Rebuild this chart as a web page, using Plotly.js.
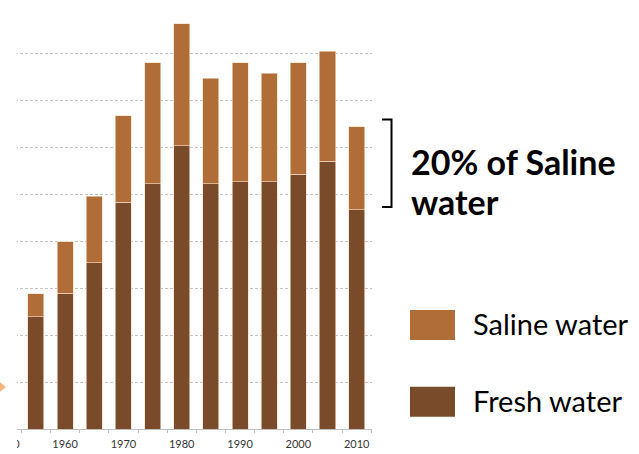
<!DOCTYPE html>
<html>
<head>
<meta charset="utf-8">
<script src="https://cdn.plot.ly/plotly-3.0.1.min.js"></script>
<style>
  html, body { margin: 0; padding: 0; background: #ffffff; }
  #chart { width: 639px; height: 454px; }
</style>
</head>
<body>
<div id="chart"></div>
<script>
// ---- data ----
const years = [1955, 1960, 1965, 1970, 1975, 1980, 1985, 1990, 1995, 2000, 2005, 2010];
const freshWater = [23.9, 29.0, 35.4, 48.3, 52.3, 60.4, 52.3, 52.7, 52.7, 54.3, 57.1, 46.8];
const salineWater = [4.9, 10.9, 14.2, 18.5, 25.8, 26.0, 22.5, 25.4, 23.2, 23.8, 23.4, 17.7];
const tickYears = [1950, 1960, 1970, 1980, 1990, 2000, 2010];
const tickLabels = ['1950', '1960', '1970', '1980', '1990', '2000', '2010'];
const seriesNames = ['Fresh water', 'Saline water'];
const noteText = ['20% of Saline', 'water'];

// ---- styles ----
const FRESH = '#7a4b2b';
const SALINE = '#b06d37';
const EDGE = 'rgba(246,222,200,0.9)';

// paper-coordinate helpers (plot area: x 0..372 px, y 6..429 px)
const PW = 372, PT = 6, PB = 429;
const X = px => px / PW;
const Y = py => (PB - py) / (PB - PT);

const traces = [
  {
    type: 'bar', name: seriesNames[0], x: years, y: freshWater,
    marker: { color: FRESH, line: { color: EDGE, width: 0.7 } },
    showlegend: false, hoverinfo: 'x+y+name'
  },
  {
    type: 'bar', name: seriesNames[1], x: years, y: salineWater,
    marker: { color: SALINE, line: { color: EDGE, width: 0.7 } },
    showlegend: false, hoverinfo: 'x+y+name'
  }
];

const layout = {
  width: 639, height: 454,
  margin: { l: 0, r: 639 - PW, t: PT, b: 454 - PB },
  paper_bgcolor: '#ffffff', plot_bgcolor: '#ffffff',
  barmode: 'stack', bargap: 0.45,
  font: { family: 'Lato, "Open Sans", sans-serif', color: '#000000' },
  xaxis: {
    range: [1948.83, 2012.63],
    tickmode: 'array', tickvals: tickYears, ticktext: tickLabels,
    ticks: '', showgrid: false, zeroline: false,
    showline: true, linecolor: '#bfbfbf', linewidth: 1,
    tickfont: { family: 'Lato, sans-serif', size: 11, color: '#333333' },
    ticklabelstandoff: 5, ticklabeloverflow: 'allow',
    minor: { tick0: 1952.5, dtick: 5, ticks: 'outside', ticklen: 3, tickcolor: '#bfbfbf', showgrid: false }
  },
  yaxis: {
    range: [0, 90.2], dtick: 10, tick0: 0,
    showticklabels: false, ticks: '', zeroline: false, showline: false,
    showgrid: true, gridcolor: '#c4c4c4', gridwidth: 1, griddash: '3px,2px'
  },
  shapes: [
    // crop edge of the embedded chart picture
    { type: 'rect', xref: 'paper', yref: 'paper', layer: 'above',
      x0: -0.02, x1: X(17), y0: -0.2, y1: 1.1, fillcolor: '#ffffff', line: { width: 0 } },
    // orange arrow tip at the left edge
    { type: 'path', xref: 'paper', yref: 'paper', layer: 'above',
      path: `M ${X(-3)},${Y(380)} L ${X(6)},${Y(387)} L ${X(-3)},${Y(394)} Z`,
      fillcolor: '#f5b57c', line: { width: 0 } },
    // bracket
    { type: 'path', xref: 'paper', yref: 'paper', layer: 'above',
      path: `M ${X(382)},${Y(119.5)} L ${X(391.5)},${Y(119.5)} L ${X(391.5)},${Y(207)} L ${X(382)},${Y(207)}`,
      line: { color: '#000000', width: 2 } },
    // legend swatches
    { type: 'rect', xref: 'paper', yref: 'paper', layer: 'above',
      x0: X(410), x1: X(455), y0: Y(340), y1: Y(310), fillcolor: SALINE, line: { width: 0 } },
    { type: 'rect', xref: 'paper', yref: 'paper', layer: 'above',
      x0: X(410), x1: X(455), y0: Y(416.7), y1: Y(386.7), fillcolor: FRESH, line: { width: 0 } }
  ],
  annotations: [
    { xref: 'paper', yref: 'paper', x: X(409), y: Y(161), xanchor: 'left', yanchor: 'middle',
      text: '<b>' + noteText[0] + '</b>', showarrow: false,
      font: { family: 'Lato, sans-serif', size: 34, color: '#000000' } },
    { xref: 'paper', yref: 'paper', x: X(409), y: Y(201.5), xanchor: 'left', yanchor: 'middle',
      text: '<b>' + noteText[1] + '</b>', showarrow: false,
      font: { family: 'Lato, sans-serif', size: 34, color: '#000000' } },
    { xref: 'paper', yref: 'paper', x: X(471), y: Y(323), xanchor: 'left', yanchor: 'middle',
      text: seriesNames[1], showarrow: false,
      font: { family: 'Lato, sans-serif', size: 29, color: '#000000' } },
    { xref: 'paper', yref: 'paper', x: X(471), y: Y(400), xanchor: 'left', yanchor: 'middle',
      text: seriesNames[0], showarrow: false,
      font: { family: 'Lato, sans-serif', size: 29, color: '#000000' } }
  ]
};

Plotly.newPlot('chart', traces, layout, { displayModeBar: false, staticPlot: true });
</script>
</body>
</html>
